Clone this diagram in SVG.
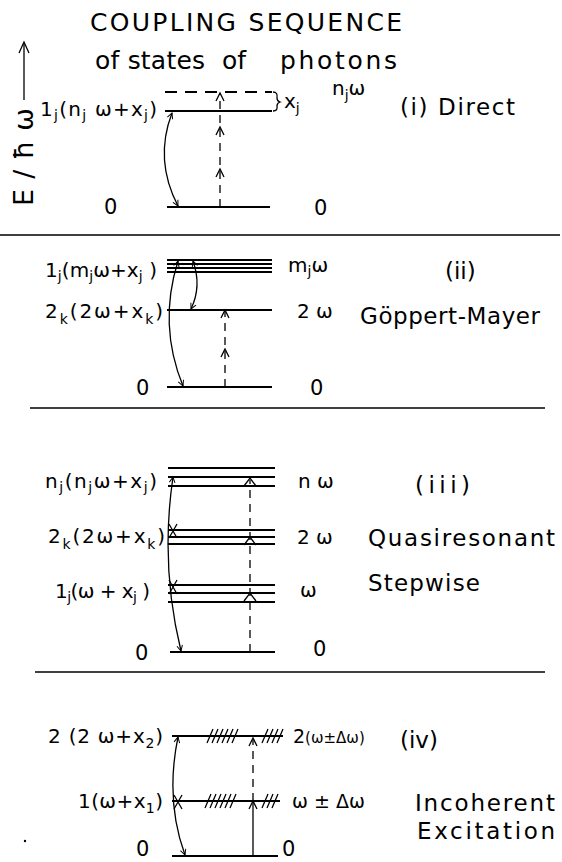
<svg xmlns="http://www.w3.org/2000/svg" width="562" height="862" viewBox="0 0 562 862">
<defs>
<marker id="ah" viewBox="0 0 10 10" refX="9" refY="5" markerWidth="7" markerHeight="7" orient="auto-start-reverse" markerUnits="userSpaceOnUse">
<path d="M1 1 L9 5 L1 9" fill="none" stroke="#000" stroke-width="1.4"/>
</marker>
<style>
text{font-family:"DejaVu Sans","Liberation Sans",sans-serif;fill:#000;font-size:20px}
.lvl{stroke:#000;stroke-width:1.8;fill:none}
.sep{stroke:#000;stroke-width:1.6;fill:none}
.cv{stroke:#000;stroke-width:1.3;fill:none;marker-start:url(#ah);marker-end:url(#ah)}
.dsh{stroke:#000;stroke-width:1.3;fill:none;stroke-dasharray:8 6}
.hd{stroke:#000;stroke-width:1.3;fill:none}
.sub{font-size:14px}
text.desc{font-size:23px}
text.ttl{font-size:25px}
text.zero{font-size:21px}
text.sm{font-size:19px}
</style>
</defs>

<g id="title">
<text x="90" y="31" class="ttl" textLength="312" lengthAdjust="spacing">COUPLING SEQUENCE</text>
<text x="95" y="69" class="ttl" textLength="110" lengthAdjust="spacing">of states</text>
<text x="222" y="69" class="ttl">of</text>
<text x="280" y="69" class="ttl" textLength="117" lengthAdjust="spacing">photons</text>
</g>

<g id="axis">
<line x1="24" y1="100" x2="24" y2="44" class="hd" stroke-width="1.5"/>
<path d="M19 53 L24 42 L29 53" class="hd" stroke-width="1.5"/>
<text transform="translate(33,206) rotate(-90)" style="font-size:27px" textLength="98" lengthAdjust="spacing">E/ħω</text>
</g>

<g id="direct">
<line x1="165" y1="92" x2="272" y2="92" class="lvl" stroke-dasharray="12 8"/>
<line x1="165" y1="111" x2="272" y2="111" class="lvl"/>
<line x1="167" y1="207" x2="270" y2="207" class="lvl"/>
<path d="M273 92 Q278 92 277 98 Q277 101 280 102 Q277 103 277 106 Q278 111 273 111" class="hd"/>
<text x="40" y="116" textLength="117" lengthAdjust="spacing">1<tspan class="sub" dy="4">j</tspan><tspan dy="-4">(n</tspan><tspan class="sub" dy="4">j</tspan><tspan dy="-4"> ω+x</tspan><tspan class="sub" dy="4">j</tspan><tspan dy="-4">)</tspan></text>
<text x="284" y="108">x<tspan class="sub" dy="5">j</tspan></text>
<text x="332" y="95">n<tspan class="sub" dy="5">j</tspan><tspan dy="-5">ω</tspan></text>
<text x="400" y="115" class="desc" textLength="115" lengthAdjust="spacing">(i) Direct</text>
<text x="104" y="214" class="zero">0</text>
<text x="314" y="215" class="zero">0</text>
</g>

<g id="goppert">
<line x1="167" y1="260" x2="272" y2="260" class="lvl"/>
<line x1="167" y1="264" x2="272" y2="264" class="lvl"/>
<line x1="167" y1="268" x2="272" y2="268" class="lvl"/>
<line x1="167" y1="272" x2="272" y2="272" class="lvl"/>
<line x1="167" y1="310" x2="272" y2="310" class="lvl"/>
<line x1="167" y1="387" x2="272" y2="387" class="lvl"/>
<text x="45" y="277" textLength="112" lengthAdjust="spacing">1<tspan class="sub" dy="4">j</tspan><tspan dy="-4">(m</tspan><tspan class="sub" dy="4">j</tspan><tspan dy="-4">ω+x</tspan><tspan class="sub" dy="4">j</tspan><tspan dy="-4"> )</tspan></text>
<text x="45" y="318" textLength="118" lengthAdjust="spacing">2<tspan class="sub" dy="6">k</tspan><tspan dy="-6">(2ω+x</tspan><tspan class="sub" dy="6">k</tspan><tspan dy="-6">)</tspan></text>
<text x="288" y="272">m<tspan class="sub" dy="4">j</tspan><tspan dy="-4">ω</tspan></text>
<text x="297" y="318">2 ω</text>
<text x="445" y="279" class="desc">(ii)</text>
<text x="360" y="324" class="desc" textLength="180" lengthAdjust="spacing">Göppert-Mayer</text>
<text x="136" y="395" class="zero">0</text>
<text x="310" y="395" class="zero">0</text>
</g>

<g id="stepwise">
<line x1="168" y1="468" x2="275" y2="468" class="lvl"/>
<line x1="168" y1="477" x2="275" y2="477" class="lvl"/>
<line x1="168" y1="486" x2="275" y2="486" class="lvl"/>
<line x1="168" y1="530" x2="275" y2="530" class="lvl"/>
<line x1="168" y1="537" x2="275" y2="537" class="lvl"/>
<line x1="168" y1="544" x2="275" y2="544" class="lvl"/>
<line x1="168" y1="585" x2="275" y2="585" class="lvl"/>
<line x1="168" y1="593" x2="275" y2="593" class="lvl"/>
<line x1="168" y1="602" x2="275" y2="602" class="lvl"/>
<line x1="170" y1="652" x2="275" y2="652" class="lvl"/>
<text x="45" y="488" textLength="112" lengthAdjust="spacing">n<tspan class="sub" dy="4">j</tspan><tspan dy="-4">(n</tspan><tspan class="sub" dy="4">j</tspan><tspan dy="-4">ω+x</tspan><tspan class="sub" dy="4">j</tspan><tspan dy="-4">)</tspan></text>
<text x="48" y="543" textLength="117" lengthAdjust="spacing">2<tspan class="sub" dy="6">k</tspan><tspan dy="-6">(2ω+x</tspan><tspan class="sub" dy="6">k</tspan><tspan dy="-6">)</tspan></text>
<text x="55" y="598" textLength="95" lengthAdjust="spacing">1<tspan class="sub" dy="4">j</tspan><tspan dy="-4">(ω + x</tspan><tspan class="sub" dy="4">j</tspan><tspan dy="-4"> )</tspan></text>
<text x="298" y="488">n ω</text>
<text x="297" y="544">2 ω</text>
<text x="300" y="597">ω</text>
<text x="415" y="493" class="desc" textLength="55" lengthAdjust="spacing">(iii)</text>
<text x="368" y="546" class="desc" textLength="187" lengthAdjust="spacing">Quasiresonant</text>
<text x="368" y="591" class="desc" textLength="112" lengthAdjust="spacing">Stepwise</text>
<text x="135" y="660" class="zero">0</text>
<text x="313" y="656" class="zero">0</text>
</g>

<g id="incoherent">
<line x1="172" y1="736" x2="283" y2="736" class="lvl"/>
<line x1="172" y1="801" x2="280" y2="801" class="lvl"/>
<line x1="172" y1="856" x2="278" y2="856" class="lvl"/>
<path d="M207 743 L213 729 M212 743 L218 729 M217 743 L223 729 M222 743 L228 729 M227 743 L233 729 M232 743 L238 729 M262 743 L268 729 M267 743 L273 729 M272 743 L278 729 M277 743 L283 729" class="hd"/>
<path d="M205 808 L211 794 M210 808 L216 794 M215 808 L221 794 M220 808 L226 794 M225 808 L231 794 M230 808 L236 794 M262 808 L268 794 M267 808 L273 794 M272 808 L278 794" class="hd"/>
<text x="48" y="743" textLength="115" lengthAdjust="spacing">2 (2 ω+x<tspan class="sub" dy="5">2</tspan><tspan dy="-5">)</tspan></text>
<text x="78" y="808" textLength="85" lengthAdjust="spacing">1(ω+x<tspan class="sub" dy="5">1</tspan><tspan dy="-5">)</tspan></text>
<text x="293" y="743" class="sm">2<tspan font-size="15">(ω±Δω)</tspan></text>
<text x="292" y="808" class="sm">ω ± Δω</text>
<text x="400" y="748" class="desc">(iv)</text>
<text x="415" y="811" class="desc" textLength="140" lengthAdjust="spacing">Incoherent</text>
<text x="417" y="839" class="desc" textLength="138" lengthAdjust="spacing">Excitation</text>
<text x="136" y="856" class="zero">0</text>
<text x="282" y="856" class="zero">0</text>
<circle cx="25" cy="841" r="1.2" fill="#000"/>
</g>

<g id="separators">
<line x1="0" y1="235" x2="560" y2="235" class="sep"/>
<line x1="30" y1="408" x2="545" y2="408" class="sep"/>
<line x1="35" y1="672" x2="545" y2="672" class="sep"/>
</g>

<g id="connectors">
<path d="M172 113 Q154 160 178 206" class="cv"/>
<line x1="220" y1="207" x2="220" y2="94" class="dsh"/>
<path d="M216 101 L220 93 L224 101 M216 135 L220 127 L224 135 M216 177 L220 169 L224 177" class="hd"/>
<path d="M178 261 Q158 325 183 386" class="cv"/>
<path d="M193 261 Q202 286 191 309" class="cv"/>
<line x1="225" y1="387" x2="225" y2="311" class="dsh"/>
<path d="M221 318 L225 310 L229 318 M221 357 L225 349 L229 357" class="hd"/>
<path d="M173 477 Q160 565 181 651" class="cv"/>
<path d="M169 524 L173 531 L177 524 M169 538 L173 531 L177 538 M169 580 L173 587 L177 580 M169 594 L173 587 L177 594" class="hd"/>
<line x1="250" y1="652" x2="250" y2="480" class="dsh"/>
<path d="M244 486 L250 478 L256 486 M244 545 L250 537 L256 545 M244 601 L250 593 L256 601" class="hd"/>
<path d="M178 737 Q165 800 185 855" class="cv"/>
<path d="M174 795 L178 802 L182 795 M174 809 L178 802 L182 809" class="hd"/>
<line x1="253" y1="801" x2="253" y2="740" class="dsh"/>
<path d="M249 746 L253 738 L257 746" class="hd"/>
<line x1="253" y1="856" x2="253" y2="802" class="hd"/>
<path d="M249 809 L253 801 L257 809" class="hd"/>
</g>
</svg>
